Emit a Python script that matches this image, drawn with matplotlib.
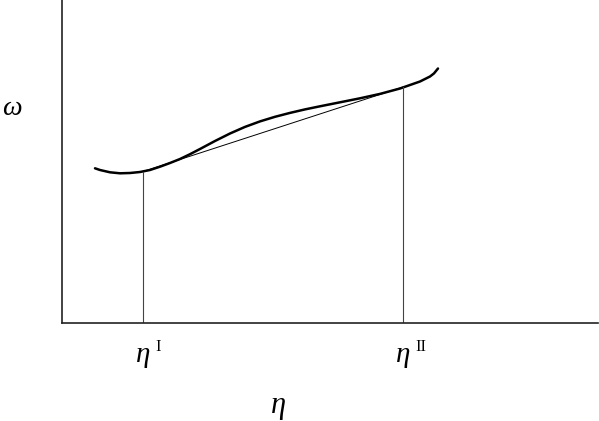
import matplotlib.pyplot as plt

# free energy curve omega(eta)
eta = [33, 38, 48, 58, 68, 78, 88, 98, 108, 118, 128, 138, 153, 168, 183,
       198, 213, 228, 243, 258, 278, 298, 318, 338, 358, 368, 372, 376]
omega = [154.7, 153, 150.7, 149.7, 150, 151, 153, 156.3, 160, 164, 168.8,
         174, 182, 189.5, 196.1, 201.6, 206.2, 210.1, 213.6, 216.7, 220.7,
         224.7, 229.1, 234.5, 241.5, 246.5, 249.6, 254.5]

# common tangent points
eta_t = [81, 341]
omega_t = [151.5, 236]
tick_names = ["I", "II"]

fig = plt.figure(figsize=(5.99, 4.21), dpi=100)
ax = fig.add_axes([62 / 599, 98 / 421, 536 / 599, 323 / 421])
ax.set_xlim(0, 536)
ax.set_ylim(0, 323)
ax.spines['top'].set_visible(False)
ax.spines['right'].set_visible(False)
for s in ('left', 'bottom'):
    ax.spines[s].set_linewidth(1.2)
    ax.spines[s].set_color('#222222')
ax.set_xticks([])
ax.set_yticks([])

ax.plot(eta, omega, color='black', lw=1.8, solid_capstyle='round',
        solid_joinstyle='round')
ax.plot(eta_t, omega_t, color='black', lw=0.7)
for e, o in zip(eta_t, omega_t):
    ax.plot([e, e], [0, o], color='#444444', lw=0.8)

serif = ['Liberation Serif', 'DejaVu Serif']
for e, name in zip(eta_t, tick_names):
    ax.text(e, -39, "η", family=serif, style='italic', fontsize=21,
            ha='center', va='baseline', clip_on=False)
    ax.text(e + 12, -28, name, family=serif, fontsize=12,
            ha='left', va='baseline', clip_on=False)

ax.text(216, -90, "η", family=serif, style='italic', fontsize=22,
        ha='center', va='baseline', clip_on=False)
fig.text(2 / 599, 1 - 115 / 421, "ω", family=serif, style='italic', fontsize=20,
         ha='left', va='baseline')

fig.savefig('out.png', dpi=100)
